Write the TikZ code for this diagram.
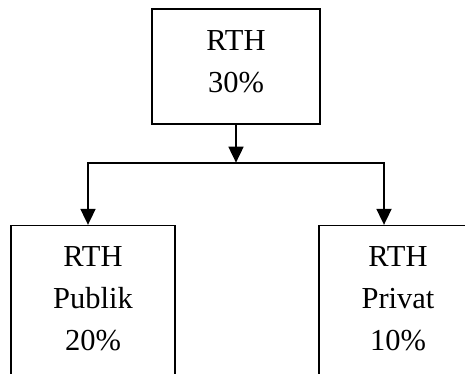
\documentclass[tikz,border=0pt]{standalone}
\usepackage{fontspec}
\setmainfont{Liberation Serif}
\usetikzlibrary{arrows.meta,positioning}

\begin{document}
\begin{tikzpicture}[x=1pt,y=-1pt,on grid,
  box/.style={draw,line width=1.3pt,align=center,inner sep=0pt,
    font=\fontsize{30.5}{42}\selectfont},
  link/.style={line width=1.8pt,-{Triangle[width=15pt,length=16pt]}}]
  \useasboundingbox (0,0) rectangle (465,374);
  \clip (0,0) rectangle (465,374);
  \path
  node[box,minimum width=168pt,minimum height=115pt,text depth=10pt] (rth) at (236,66.5) {RTH\\30\%}
  node[box,minimum width=164pt,minimum height=150pt,text depth=4pt] (pub) [below left=234pt and 143pt of rth] {RTH\\Publik\\20\%}
  node[box,minimum width=158pt,minimum height=150pt,text depth=4pt] (priv) [below right=234pt and 162pt of rth] {RTH\\Privat\\10\%}
  ;
  \coordinate[below=38pt of rth.south] (fork);
  \coordinate[left=148pt of fork] (forkl);
  \coordinate[right=148pt of fork] (forkr);

  \draw[link] (rth.south) -- (fork);
  \draw[line width=1.8pt,line cap=rect] (forkl) -- (forkr);
  \draw[link] (forkl) -- (forkl |- pub.north);
  \draw[link] (forkr) -- (forkr |- priv.north);
\end{tikzpicture}
\end{document}
